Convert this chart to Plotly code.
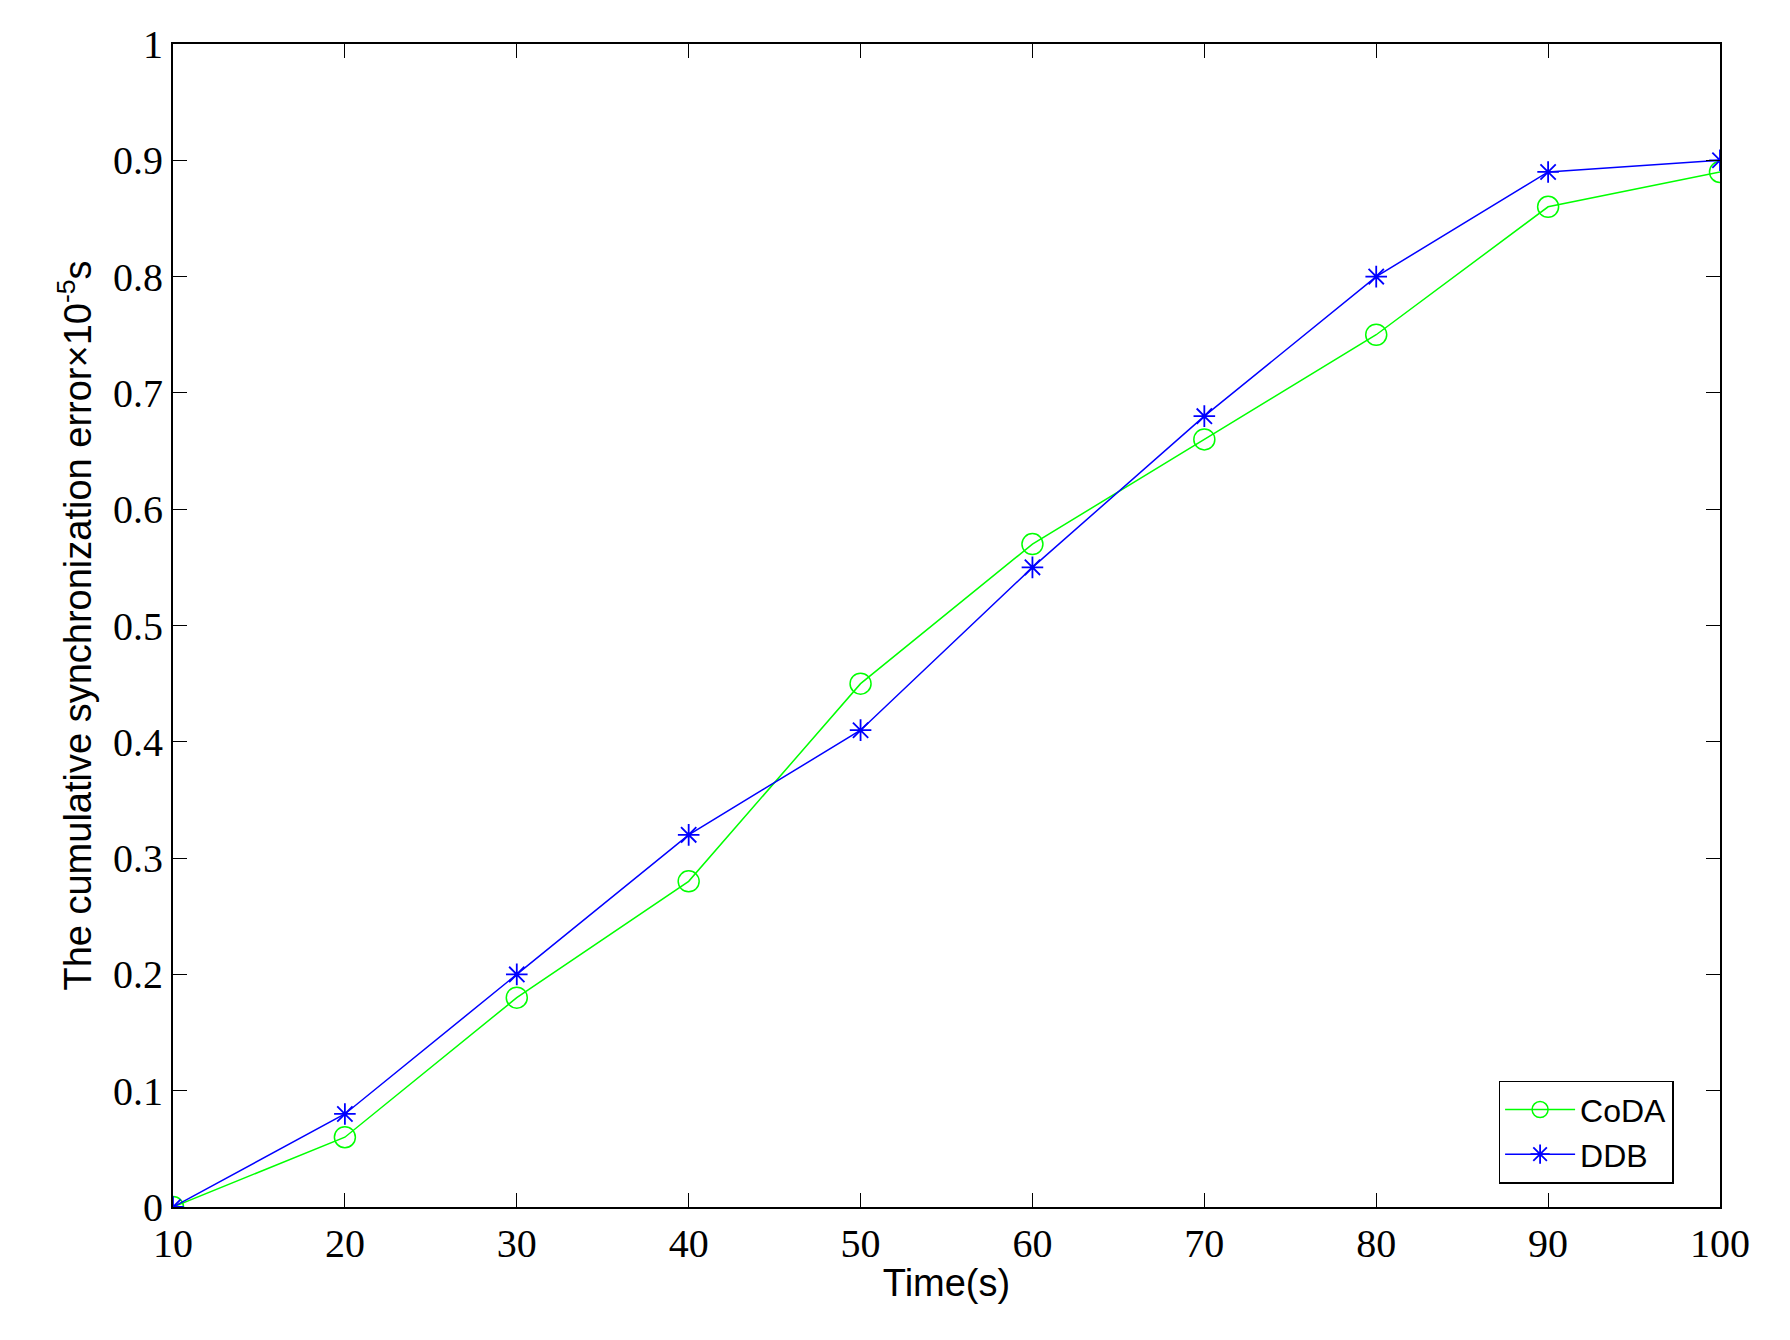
import plotly.graph_objects as go

time = [10, 20, 30, 40, 50, 60, 70, 80, 90, 100]
coda = [0, 0.06, 0.18, 0.28, 0.45, 0.57, 0.66, 0.75, 0.86, 0.89]
ddb = [0, 0.08, 0.20, 0.32, 0.41, 0.55, 0.68, 0.80, 0.89, 0.90]

fig = go.Figure()
fig.add_trace(go.Scatter(x=time, y=coda, name="CoDA", mode="lines+markers",
    line=dict(color="#00ff00", width=1.5),
    marker=dict(symbol="circle-open", size=21, color="#00ff00", line=dict(width=1.5))))
fig.add_trace(go.Scatter(x=time, y=ddb, name="DDB", mode="lines+markers",
    line=dict(color="#0000ff", width=1.5),
    marker=dict(symbol="asterisk-open", size=18, color="#0000ff", line=dict(width=1.8, color="#0000ff"))))

ax = dict(showgrid=False, zeroline=False, showline=True, linecolor="black", linewidth=2,
          mirror="ticks", ticks="inside", ticklen=14, tickcolor="black",
          tickfont=dict(family="Liberation Serif", size=40, color="black"))
fig.update_layout(
    width=1790, height=1340, paper_bgcolor="white", plot_bgcolor="white",
    margin=dict(l=165, r=78, t=36, b=141),
    xaxis=dict(**ax, range=[10, 100], tickvals=time,
               title=dict(text="Time(s)", font=dict(family="Liberation Sans", size=38, color="black"), standoff=4)),
    yaxis=dict(**ax, range=[0, 1], dtick=0.1, tickformat="~g",
               title=dict(text="The cumulative synchronization error×10<sup>-5</sup>s",
                          font=dict(family="Liberation Sans", size=38, color="black"), standoff=10)),
    legend=dict(x=0.97, y=0.02, xanchor="right", yanchor="bottom", bgcolor="white",
                bordercolor="black", borderwidth=1.5,
                font=dict(family="Liberation Sans", size=32, color="black"), itemwidth=70),
)
fig.write_html("out.html")
